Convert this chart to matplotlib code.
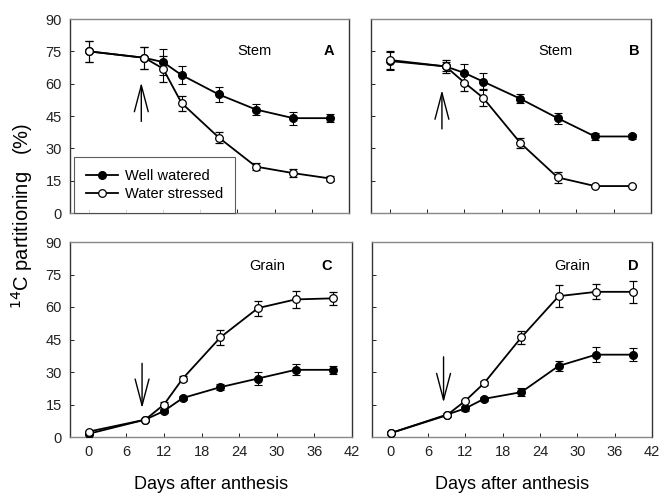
import matplotlib
matplotlib.use("Agg")
import matplotlib.pyplot as plt
from matplotlib.lines import Line2D

plt.rcParams['font.family'] = ['Liberation Sans', 'DejaVu Sans']

days = [0, 9, 12, 15, 21, 27, 33, 39]

# Panel A (stem)
a_ww = [75, 72, 70, 64, 55, 48, 44, 44]
a_ww_err = [5, 5, 6, 4, 3.5, 2.5, 3, 2]
a_ws = [75, 72, 67, 51, 35, 21.5, 18.5, 16]
a_ws_err = [5, 5, 6, 3.5, 2.5, 1.5, 2, 1]

# Panel B (stem)
b_ww = [70.5, 68, 65, 61, 53, 44, 35.5, 35.5]
b_ww_err = [4, 2, 4, 4, 2, 2.5, 1.5, 1]
b_ws = [71, 68, 60.5, 53.5, 32.5, 16.5, 12.5, 12.5]
b_ws_err = [4, 3, 4, 4, 2.5, 2.5, 0.5, 0.5]

# Panel C (grain)
c_ww = [1.5, 8, 12, 18, 23, 27, 31, 31]
c_ww_err = [0.5, 0.5, 1, 1, 1.5, 3, 2.5, 2]
c_ws = [2.5, 8, 15, 27, 46, 59.5, 63.5, 64]
c_ws_err = [0.5, 0.5, 1, 1, 3.5, 3.5, 4, 3]

# Panel D (grain)
d_ww = [1.8, 10.3, 13.2, 17.6, 20.7, 32.8, 38, 38]
d_ww_err = [0.5, 0.5, 1, 1, 2, 2.5, 3.5, 3]
d_ws = [1.8, 10, 16.7, 24.8, 46, 65, 67, 67]
d_ws_err = [0.5, 0.5, 0.5, 1, 3, 5, 3.5, 5]

xticks = [0, 6, 12, 18, 24, 30, 36, 42]
yticks = [0, 15, 30, 45, 60, 75, 90]

W, H = 660, 494
fig = plt.figure(figsize=(6.6, 4.94), dpi=100)

def pos(l, t, r, b):
    return [l / W, 1 - b / H, (r - l) / W, (b - t) / H]

axA = fig.add_axes(pos(70, 19, 349, 213))
axB = fig.add_axes(pos(371, 19, 651, 213))
axC = fig.add_axes(pos(70, 242, 352, 437))
axD = fig.add_axes(pos(372, 242, 652, 437))

panels = [
    (axA, a_ww, a_ww_err, a_ws, a_ws_err, 'Stem', 'A', 26.8, 38.8),
    (axB, b_ww, b_ww_err, b_ws, b_ws_err, 'Stem', 'B', 26.7, 39.3),
    (axC, c_ww, c_ww_err, c_ws, c_ws_err, 'Grain', 'C', 28.4, 38.0),
    (axD, d_ww, d_ww_err, d_ws, d_ws_err, 'Grain', 'D', 29.2, 39.0),
]

arrows = {
    'A': ((8.5, 42.5), (8.5, 60.5)),
    'B': ((8.4, 39), (8.4, 57)),
    'C': ((8.5, 34), (8.5, 13.3)),
    'D': ((8.5, 37), (8.5, 15.9)),
}

for ax, ww, wwe, ws, wse, name, letter, nx, lx in panels:
    ax.errorbar(days, ww, yerr=wwe, color='black', marker='o', ms=5.5,
                mfc='black', mec='black', lw=1.3, elinewidth=0.8,
                capsize=3, capthick=0.8, zorder=3)
    ax.errorbar(days, ws, yerr=wse, color='black', marker='o', ms=5.5,
                mfc='white', mec='black', mew=0.9, lw=1.3, elinewidth=0.8,
                capsize=3, capthick=0.8, zorder=4)
    ax.set_xlim(-3, 42)
    ax.set_ylim(0, 90)
    ax.set_xticks(xticks)
    ax.set_yticks(yticks)
    ax.tick_params(direction='in', length=3, width=0.7, labelsize=10.5,
                   colors='#222222', pad=6)
    for s in ['left', 'right']:
        ax.spines[s].set_color('#333333')
        ax.spines[s].set_linewidth(1.0)
    for s in ['top', 'bottom']:
        ax.spines[s].set_color('#888888')
        ax.spines[s].set_linewidth(1.0)
        ax.spines[s].set_linestyle((0, (1, 1)))
    y_txt = 75 if name == 'Stem' else 79
    ax.text(nx, y_txt, name, ha='center', va='center', fontsize=10.5)
    ax.text(lx, y_txt, letter, ha='center', va='center', fontsize=10.5,
            fontweight='bold')
    tail, head = arrows[letter]
    ax.annotate('', xy=head, xytext=tail,
                arrowprops=dict(arrowstyle='->,head_length=1.9,head_width=0.5',
                                lw=1.0, color='black', mutation_scale=10,
                                shrinkA=0, shrinkB=0))

axA.tick_params(labelbottom=False)
axB.tick_params(labelbottom=False, labelleft=False)
axD.tick_params(labelleft=False)

h_ww = Line2D([], [], color='black', marker='o', ms=5.5, mfc='black',
              mec='black', lw=1.3)
h_ws = Line2D([], [], color='black', marker='o', ms=5.5, mfc='white',
              mec='black', mew=0.9, lw=1.3)
leg = axA.legend([h_ww, h_ws], ['Well watered', 'Water stressed'],
                 loc='lower left', bbox_to_anchor=(0.014, 0.0), borderaxespad=0,
                 fontsize=10.5, frameon=True, fancybox=False, handlelength=2.2,
                 borderpad=0.8, labelspacing=0.3, handletextpad=0.5)
leg.get_frame().set_edgecolor('#333333')
leg.get_frame().set_linewidth(0.8)

for ax in (axC, axD):
    ax.set_xlabel('Days after anthesis', fontsize=13, labelpad=12)

fig.text(0.033, 1 - 216 / H, r'$^{14}$C partitioning   (%)', rotation=90,
         ha='center', va='center', fontsize=14.5)

fig.savefig('out.png', dpi=100)
